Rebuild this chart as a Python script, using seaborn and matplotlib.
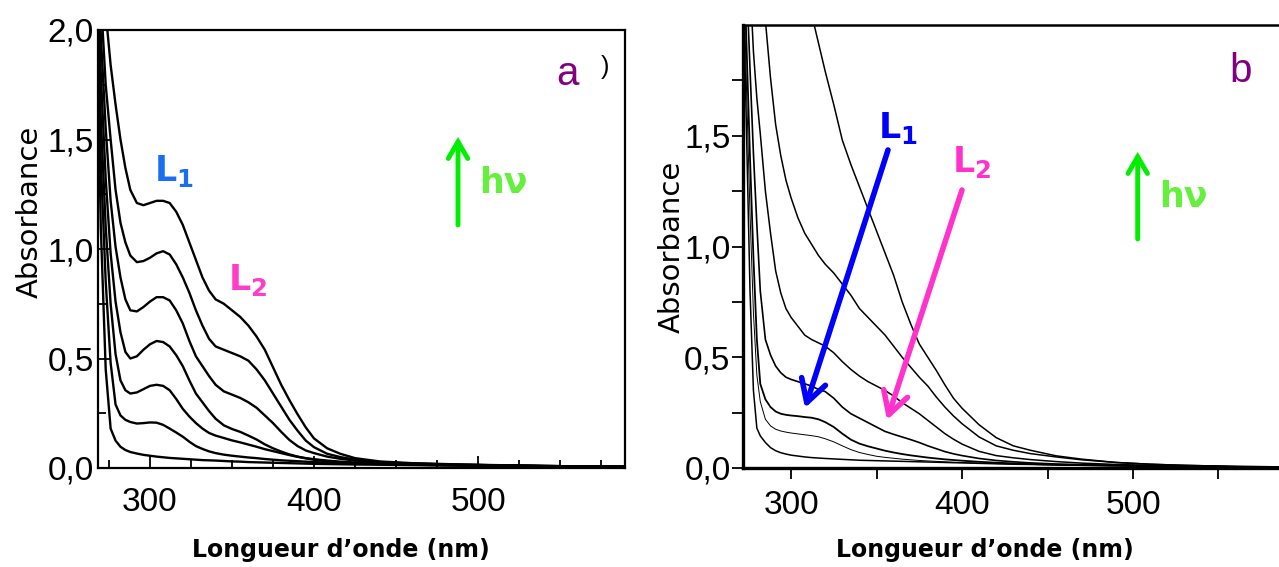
import matplotlib
matplotlib.use("Agg")
import matplotlib.pyplot as plt
from matplotlib.patches import FancyArrowPatch
from matplotlib.ticker import FixedLocator, FuncFormatter
import numpy as np
import pandas as pd
import seaborn as sns

# ---------------- data: panel a ----------------
wl_a = [268, 270, 273, 276, 279, 282, 285, 288, 292, 296, 300, 304, 308, 312, 316, 320,
        324, 328, 332, 336, 340, 345, 350, 355, 360, 365, 370, 375, 380, 385, 390, 395,
        400, 408, 416, 425, 440, 460, 490, 520, 555, 590]
a_c8 = [2.6, 2.4, 2.08, 1.84, 1.66, 1.50, 1.37, 1.27, 1.21, 1.20, 1.21, 1.22, 1.22, 1.21, 1.17, 1.11,
        1.03, 0.95, 0.87, 0.81, 0.77, 0.75, 0.72, 0.69, 0.65, 0.60, 0.54, 0.46, 0.38, 0.31, 0.245, 0.185,
        0.135, 0.09, 0.065, 0.045, 0.03, 0.022, 0.016, 0.012, 0.008, 0.006]
a_c7 = [2.5, 2.15, 1.75, 1.50, 1.27, 1.12, 1.03, 0.97, 0.94, 0.945, 0.96, 0.98, 0.99, 0.975, 0.93, 0.87,
        0.80, 0.72, 0.65, 0.59, 0.555, 0.54, 0.525, 0.51, 0.49, 0.45, 0.40, 0.34, 0.28, 0.22, 0.17, 0.125,
        0.095, 0.065, 0.05, 0.038, 0.027, 0.02, 0.015, 0.011, 0.008, 0.006]
a_c6 = [2.3, 1.98, 1.55, 1.22, 1.01, 0.87, 0.77, 0.72, 0.715, 0.735, 0.76, 0.78, 0.78, 0.765, 0.72, 0.66,
        0.58, 0.51, 0.465, 0.42, 0.38, 0.35, 0.335, 0.32, 0.30, 0.275, 0.24, 0.205, 0.165, 0.128, 0.10, 0.08,
        0.068, 0.052, 0.042, 0.034, 0.026, 0.02, 0.015, 0.011, 0.008, 0.006]
a_c5 = [2.2, 1.8, 1.32, 0.98, 0.76, 0.62, 0.53, 0.50, 0.51, 0.54, 0.565, 0.58, 0.575, 0.555, 0.515, 0.465,
        0.40, 0.34, 0.30, 0.26, 0.225, 0.195, 0.178, 0.165, 0.148, 0.13, 0.108, 0.09, 0.075, 0.062, 0.052, 0.044,
        0.038, 0.031, 0.026, 0.022, 0.018, 0.015, 0.012, 0.010, 0.007, 0.005]
a_c4 = [2.1, 1.6, 1.1, 0.75, 0.52, 0.40, 0.355, 0.34, 0.345, 0.36, 0.375, 0.38, 0.375, 0.355, 0.315, 0.27,
        0.235, 0.205, 0.18, 0.16, 0.148, 0.137, 0.126, 0.117, 0.107, 0.097, 0.086, 0.077, 0.068, 0.059, 0.051, 0.045,
        0.04, 0.034, 0.029, 0.025, 0.02, 0.016, 0.013, 0.010, 0.007, 0.005]
a_c3 = [2.0, 1.4, 0.85, 0.48, 0.29, 0.24, 0.22, 0.21, 0.203, 0.205, 0.208, 0.207, 0.197, 0.18, 0.162, 0.143,
        0.12, 0.10, 0.087, 0.076, 0.068, 0.061, 0.056, 0.052, 0.048, 0.045, 0.041, 0.038, 0.035, 0.033, 0.031, 0.029,
        0.027, 0.025, 0.023, 0.021, 0.018, 0.015, 0.012, 0.010, 0.007, 0.005]
a_c2 = [1.9, 1.1, 0.45, 0.18, 0.125, 0.097, 0.082, 0.073, 0.066, 0.06, 0.056, 0.052, 0.049, 0.046, 0.044, 0.042,
        0.04, 0.038, 0.036, 0.035, 0.034, 0.032, 0.03, 0.029, 0.027, 0.026, 0.025, 0.024, 0.023, 0.022, 0.021, 0.02,
        0.019, 0.018, 0.017, 0.016, 0.015, 0.013, 0.011, 0.009, 0.007, 0.005]

# ---------------- data: panel b ----------------
wl_b = [272, 274, 276, 278, 280, 282, 285, 288, 291, 294, 297, 300, 304, 308, 312, 316, 320, 325, 330,
        335, 340, 345, 350, 355, 360, 365, 370, 375, 380, 385, 390, 395, 400, 410, 420, 430, 440, 455,
        470, 490, 510, 530, 560, 590]
b_c8 = [4.0, 3.8, 3.6, 3.45, 3.35, 3.2, 3.05, 2.9, 2.78, 2.68, 2.58, 2.5, 2.35, 2.2, 2.05, 1.92, 1.79, 1.64, 1.48,
        1.37, 1.27, 1.17, 1.07, 0.97, 0.87, 0.75, 0.65, 0.56, 0.50, 0.44, 0.375, 0.315, 0.27, 0.195, 0.137, 0.10, 0.08, 0.055,
        0.04, 0.025, 0.017, 0.012, 0.007, 0.005]
b_c7 = [3.5, 3.2, 2.9, 2.65, 2.42, 2.22, 2.02, 1.76, 1.55, 1.41, 1.30, 1.22, 1.13, 1.06, 1.01, 0.96, 0.92, 0.88, 0.83,
        0.78, 0.72, 0.68, 0.64, 0.60, 0.55, 0.50, 0.455, 0.41, 0.37, 0.32, 0.275, 0.235, 0.20, 0.14, 0.10, 0.08, 0.065, 0.05,
        0.037, 0.025, 0.017, 0.012, 0.007, 0.005]
b_c6 = [3.0, 2.6, 2.2, 1.88, 1.67, 1.51, 1.25, 1.06, 0.89, 0.79, 0.72, 0.68, 0.64, 0.60, 0.58, 0.565, 0.55, 0.52, 0.48,
        0.445, 0.415, 0.39, 0.37, 0.35, 0.325, 0.295, 0.27, 0.245, 0.215, 0.185, 0.155, 0.13, 0.108, 0.075, 0.056, 0.046, 0.038, 0.029,
        0.022, 0.016, 0.012, 0.009, 0.006, 0.004]
b_c4 = [2.6, 2.2, 1.8, 1.42, 1.1, 0.80, 0.58, 0.51, 0.46, 0.43, 0.41, 0.40, 0.39, 0.38, 0.37, 0.355, 0.345, 0.315, 0.275,
        0.245, 0.225, 0.205, 0.185, 0.165, 0.152, 0.14, 0.128, 0.115, 0.10, 0.087, 0.074, 0.064, 0.056, 0.043, 0.034, 0.028, 0.023, 0.018,
        0.015, 0.012, 0.009, 0.007, 0.005, 0.004]
b_c3 = [2.4, 1.9, 1.4, 0.95, 0.58, 0.38, 0.31, 0.275, 0.255, 0.245, 0.24, 0.237, 0.234, 0.23, 0.227, 0.22, 0.207, 0.185, 0.155,
        0.128, 0.11, 0.098, 0.088, 0.078, 0.07, 0.063, 0.057, 0.052, 0.047, 0.043, 0.039, 0.036, 0.033, 0.028, 0.024, 0.021, 0.018, 0.015,
        0.013, 0.011, 0.009, 0.007, 0.005, 0.004]
b_c2 = [2.3, 1.7, 1.15, 0.70, 0.42, 0.30, 0.22, 0.19, 0.175, 0.167, 0.162, 0.158, 0.154, 0.15, 0.146, 0.141, 0.132, 0.118, 0.10,
        0.083, 0.07, 0.061, 0.053, 0.048, 0.044, 0.04, 0.037, 0.034, 0.032, 0.03, 0.028, 0.026, 0.025, 0.022, 0.02, 0.018, 0.016, 0.014,
        0.012, 0.010, 0.008, 0.007, 0.005, 0.004]
b_c1 = [2.2, 1.5, 0.8, 0.35, 0.18, 0.145, 0.115, 0.092, 0.078, 0.069, 0.063, 0.058, 0.054, 0.05, 0.047, 0.045, 0.043, 0.041, 0.039,
        0.037, 0.035, 0.034, 0.033, 0.032, 0.031, 0.03, 0.029, 0.028, 0.027, 0.026, 0.025, 0.024, 0.023, 0.021, 0.019, 0.017, 0.016, 0.014,
        0.012, 0.010, 0.008, 0.007, 0.005, 0.004]

x_labels = ["300", "400", "500"]
x_label_pos = [300, 400, 500]
y_major_a = [0.0, 0.5, 1.0, 1.5, 2.0]
y_major_b = [0.0, 0.5, 1.0, 1.5]

# ---------------- figure ----------------
sns.set_style("ticks")
plt.rcParams["font.family"] = ["Liberation Sans", "DejaVu Sans"]
for k in ("text.color", "axes.labelcolor", "xtick.color", "ytick.color", "axes.edgecolor"):
    plt.rcParams[k] = "black"
W, H = 1279, 567
fig = plt.figure(figsize=(W / 100, H / 100), dpi=100)


def fx(x):
    return x / W


def fy(y):
    return 1 - y / H


axA = fig.add_axes([fx(98), fy(468), fx(625) - fx(98), fy(30) - fy(468)])
axB = fig.add_axes([fx(743), fy(468), 1.0 - fx(743), fy(25) - fy(468)])

curves_a = [a_c8, a_c7, a_c6, a_c5, a_c4, a_c3, a_c2]
df_a = pd.DataFrame({
    "wl": wl_a * len(curves_a),
    "A": sum(curves_a, []),
    "curve": np.repeat(np.arange(len(curves_a)), len(wl_a)),
})
sns.lineplot(data=df_a, x="wl", y="A", units="curve", estimator=None, color="black",
             lw=1.7, ax=axA, legend=False, sort=False)

curves_b = [b_c8, b_c7, b_c6, b_c4, b_c3, b_c2, b_c1]
lw_b = [1.1, 1.1, 1.1, 1.2, 1.3, 0.7, 1.1]
for vals, lw in zip(curves_b, lw_b):
    sns.lineplot(x=wl_b, y=vals, color="black", lw=lw, ax=axB, legend=False, sort=False)

fmt = FuncFormatter(lambda v, p: f"{v:.1f}".replace(".", ","))

# panel a axes
axA.set_xlim(268.3, 589.6)
axA.set_ylim(0, 2.0)
axA.xaxis.set_major_locator(FixedLocator(x_label_pos))
axA.xaxis.set_minor_locator(FixedLocator(np.arange(275, 590, 25)))
axA.set_xticklabels(x_labels)
axA.yaxis.set_major_locator(FixedLocator(y_major_a))
axA.yaxis.set_minor_locator(FixedLocator([0.25, 0.75, 1.25, 1.75]))
axA.yaxis.set_major_formatter(fmt)
axA.tick_params(axis="both", which="both", direction="in", labelsize=24, width=1.3,
                bottom=True, left=True, top=False, right=False, color="black")
axA.tick_params(axis="both", which="major", length=9)
axA.tick_params(axis="both", which="minor", length=6)
axA.tick_params(axis="x", which="major", pad=14)
axA.tick_params(axis="y", which="major", pad=3)
for s in axA.spines.values():
    s.set_linewidth(1.6)
    s.set_color("black")
axA.set_xlabel("")
axA.set_ylabel("")

# panel b axes
axB.set_xlim(271.9, 585.4)
axB.set_ylim(0, 2.0)
axB.xaxis.set_major_locator(FixedLocator(x_label_pos))
axB.xaxis.set_minor_locator(FixedLocator([350, 450, 550]))
axB.set_xticklabels(x_labels)
axB.yaxis.set_major_locator(FixedLocator(y_major_b))
axB.yaxis.set_minor_locator(FixedLocator([0.25, 0.75, 1.25, 1.75]))
axB.yaxis.set_major_formatter(fmt)
axB.tick_params(axis="both", which="both", direction="out", labelsize=24, width=1.3, length=8,
                bottom=True, left=True, top=False, right=False, color="black")
axB.tick_params(axis="x", which="major", pad=8)
axB.tick_params(axis="y", which="major", pad=1)
axB.spines["right"].set_visible(False)
axB.spines["left"].set_linewidth(2.4)
axB.spines["bottom"].set_linewidth(2.4)
axB.spines["top"].set_linewidth(1.8)
for s in axB.spines.values():
    s.set_color("black")
axB.set_xlabel("")
axB.set_ylabel("")

# axis titles
for cx in (341, 985):
    fig.text(fx(cx), fy(550), "Longueur d\u2019onde (nm)", ha="center", va="center",
             fontsize=17, fontweight="bold", family=["DejaVu Sans"])
fig.text(fx(30), fy(212), "Absorbance", rotation=90, ha="center", va="center",
         fontsize=21, family=["DejaVu Sans"])
fig.text(fx(672), fy(247), "Absorbance", rotation=90, ha="center", va="center",
         fontsize=21, family=["DejaVu Sans"])

# panel letters
fig.text(fx(567), fy(74), "a", ha="center", va="center", fontsize=29, color="#800080")
fig.text(fx(605), fy(67), ")", ha="center", va="center", fontsize=18, color="black")
fig.text(fx(1241), fy(71), "b", ha="center", va="center", fontsize=29, color="#800080")

# L1 / L2 labels
lab_kw = dict(ha="center", va="center", fontsize=25, family=["DejaVu Sans"])
fig.text(fx(174), fy(171), r"$\mathbf{L_1}$", color="#1a6ef0", **lab_kw)
fig.text(fx(248), fy(280), r"$\mathbf{L_2}$", color="#ff3dc8", **lab_kw)
fig.text(fx(898), fy(128), r"$\mathbf{L_1}$", color="#0000ff", **lab_kw)
fig.text(fx(972), fy(162), r"$\mathbf{L_2}$", color="#ff33cc", **lab_kw)

# h nu arrows and labels
for (ax0, ay0, ay1, tx, ty) in [(458, 225, 137, 503, 183), (1137.7, 239, 152, 1183, 197)]:
    fig.patches.append(FancyArrowPatch(
        (fx(ax0), fy(ay0)), (fx(ax0), fy(ay1)), transform=fig.transFigure,
        arrowstyle="->,head_length=0.6,head_width=0.35", mutation_scale=20,
        color="#00ee00", lw=3.5, shrinkA=0, shrinkB=0, capstyle="round", joinstyle="miter"))
    fig.text(fx(tx), fy(ty), "h\u03bd", ha="center", va="center", fontsize=25,
             fontweight="bold", color="#64f03c", family=["DejaVu Sans"])

# arrows in panel b
for (x0, y0, x1, y1, c) in [(888, 150, 805, 408, "#0000ff"), (962, 190, 887, 420, "#ff33cc")]:
    fig.patches.append(FancyArrowPatch(
        (fx(x0), fy(y0)), (fx(x1), fy(y1)), transform=fig.transFigure,
        arrowstyle="->,head_length=0.8,head_width=0.45", mutation_scale=20,
        color=c, lw=4, shrinkA=0, shrinkB=0))

fig.savefig("out.png", dpi=100)
